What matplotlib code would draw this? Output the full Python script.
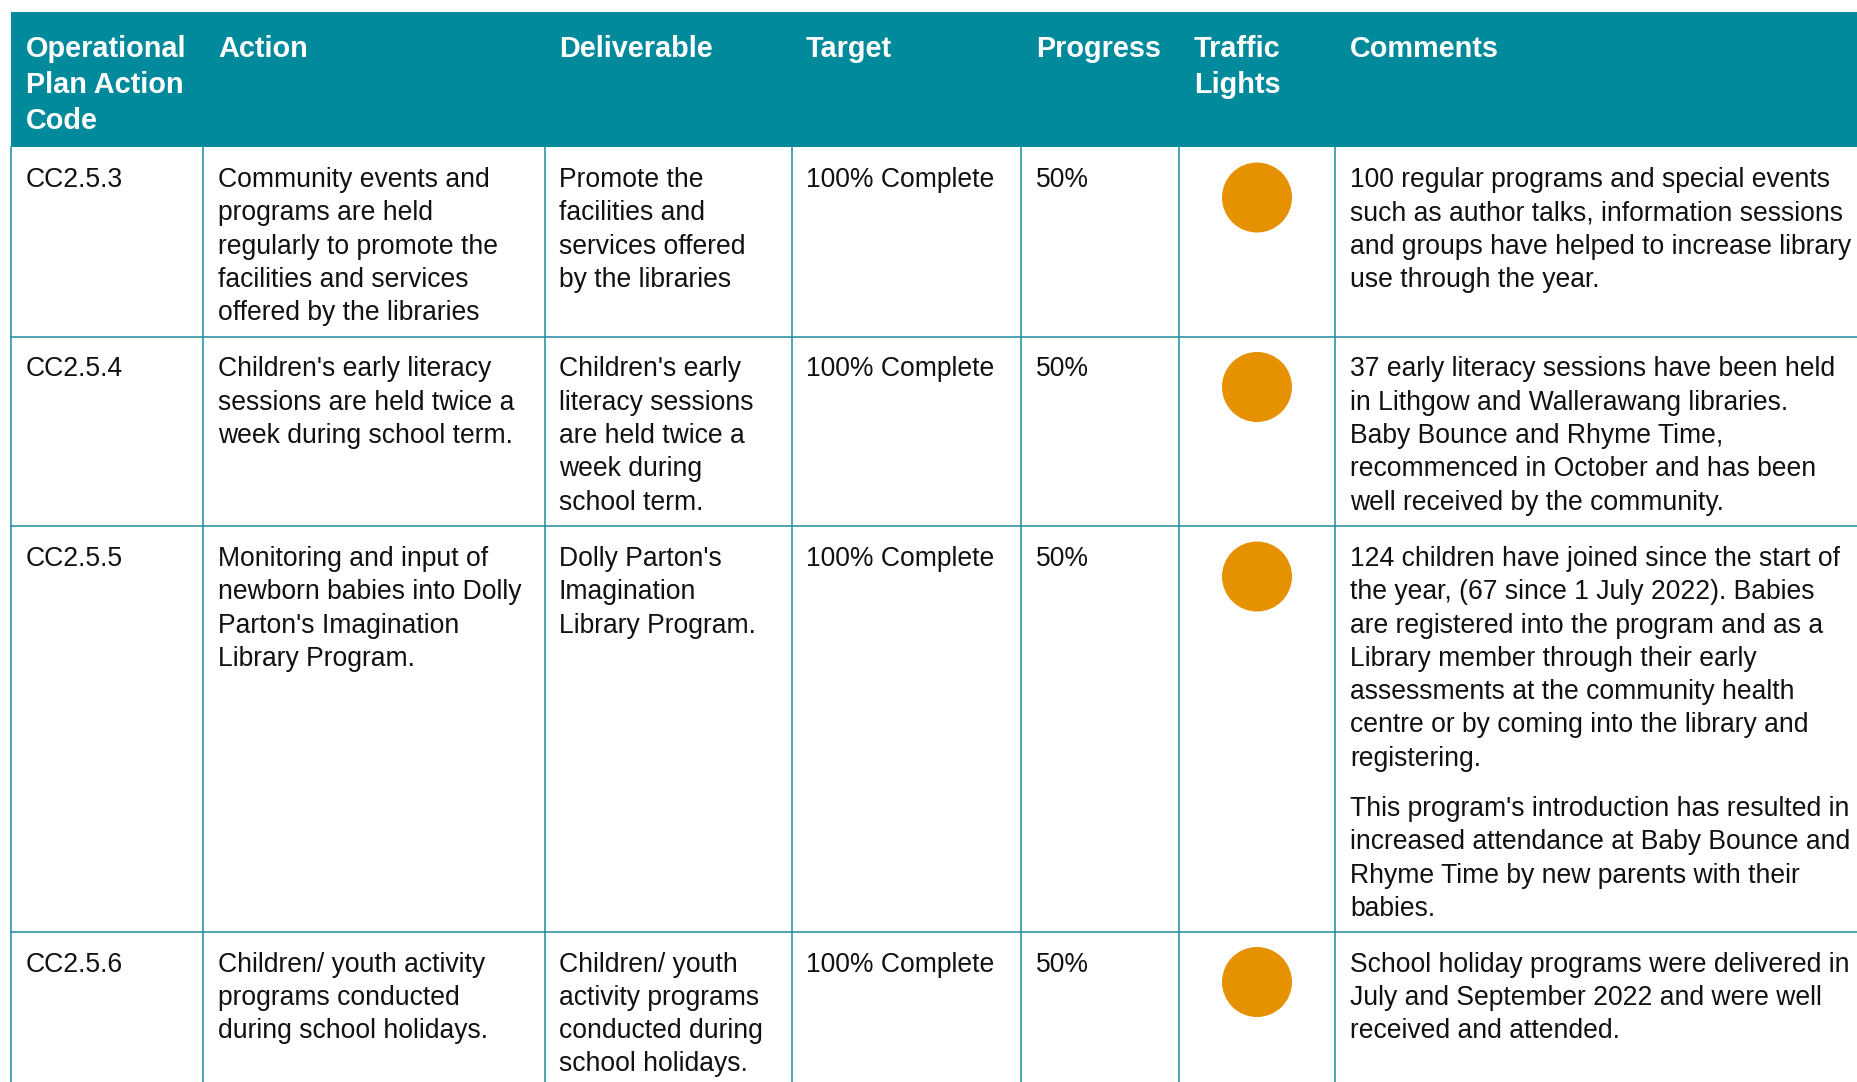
"""
Operational plan progress table (library programs), drawn as a figure.
"""

import matplotlib
matplotlib.use("Agg")
import matplotlib.pyplot as plt
from matplotlib.patches import Rectangle, Circle

plt.rcParams["font.family"] = ["Liberation Sans", "DejaVu Sans"]

# ---- table content ----------------------------------------------
headers = [
    "Operational\nPlan Action\nCode",
    "Action",
    "Deliverable",
    "Target",
    "Progress",
    "Traffic\nLights",
    "Comments",
]

codes = ["CC2.5.3", "CC2.5.4", "CC2.5.5", "CC2.5.6"]

actions = [
    "Community events and\nprograms are held\nregularly to promote the\n"
    "facilities and services\noffered by the libraries",
    "Children's early literacy\nsessions are held twice a\nweek during school term.",
    "Monitoring and input of\nnewborn babies into Dolly\nParton's Imagination\n"
    "Library Program.",
    "Children/ youth activity\nprograms conducted\nduring school holidays.",
]

deliverables = [
    "Promote the\nfacilities and\nservices offered\nby the libraries",
    "Children's early\nliteracy sessions\nare held twice a\nweek during\nschool term.",
    "Dolly Parton's\nImagination\nLibrary Program.",
    "Children/ youth\nactivity programs\nconducted during\nschool holidays.",
]

targets = ["100% Complete"] * 4
progress = ["50%"] * 4
lights = ["amber", "amber", "amber", "amber"]

comments = [
    ["100 regular programs and special events\nsuch as author talks, information sessions\n"
     "and groups have helped to increase library\nuse through the year."],
    ["37 early literacy sessions have been held\nin Lithgow and Wallerawang libraries.\n"
     "Baby Bounce and Rhyme Time,\nrecommenced in October and has been\n"
     "well received by the community."],
    ["124 children have joined since the start of\nthe year, (67 since 1 July 2022). Babies\n"
     "are registered into the program and as a\nLibrary member through their early\n"
     "assessments at the community health\ncentre or by coming into the library and\n"
     "registering.",
     "This program's introduction has resulted in\nincreased attendance at Baby Bounce and\n"
     "Rhyme Time by new parents with their\nbabies."],
    ["School holiday programs were delivered in\nJuly and September 2022 and were well\n"
     "received and attended."],
]

# ---- layout (pixels) ---------------------------------------------
W, H = 1858, 1082
LEFT, TOP, HEAD_BOTTOM = 11, 12, 147
COL_LINES = [203, 545, 792, 1021, 1179.5, 1335.5]
TEXT_X = [26, 218, 559, 806, 1036, 1194, 1350]
ROW_LINES = [336.5, 526, 931.5]
LIGHT_X = 1257
LINE_H = 33.3
HEAD_LINE_H = 35.9
PARA_GAP = 17

TEAL = "#008A9B"
GRID = "#1C8C9E"
LIGHT_COLORS = {"amber": "#E59100"}

fig = plt.figure(figsize=(W / 100, H / 100), dpi=100)
ax = fig.add_axes([0, 0, 1, 1])
ax.set_xlim(0, W)
ax.set_ylim(H, 0)
ax.axis("off")


def draw_lines(x, y0, text, dy, **kw):
    y = y0
    for line in text.split("\n"):
        ax.text(x, y, line, va="baseline", ha="left", **kw)
        y += dy
    return y


# header band
ax.add_patch(Rectangle((LEFT, TOP), W - LEFT, HEAD_BOTTOM - TOP,
                       facecolor=TEAL, edgecolor="none"))
for x, label in zip(TEXT_X, headers):
    draw_lines(x, 57, label, HEAD_LINE_H, color="white",
               fontsize=20.8, fontweight="bold")

# grid
for x in [LEFT] + COL_LINES:
    ax.plot([x, x], [HEAD_BOTTOM, H], color=GRID, lw=1.1)
for y in ROW_LINES:
    ax.plot([LEFT, W], [y, y], color=GRID, lw=1.1)

# body rows
row_tops = [HEAD_BOTTOM] + ROW_LINES
body_kw = dict(color="#111111", fontsize=19.1)
for i, top in enumerate(row_tops):
    base = top + 40
    cells = [codes[i], actions[i], deliverables[i], targets[i], progress[i]]
    for x, txt in zip(TEXT_X[:5], cells):
        draw_lines(x, base, txt, LINE_H, **body_kw)
    ax.add_patch(Circle((LIGHT_X, top + 50.5), 35,
                        facecolor=LIGHT_COLORS[lights[i]], edgecolor="none"))
    y = base
    for para in comments[i]:
        y = draw_lines(TEXT_X[6], y, para, LINE_H, **body_kw) + PARA_GAP

fig.savefig("out.png", dpi=100)
plt.close(fig)
